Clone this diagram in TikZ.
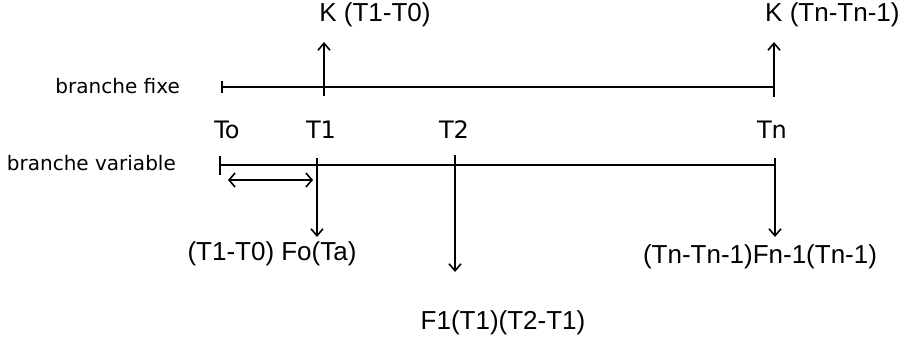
\documentclass[tikz,border=0pt]{standalone}
\usepackage{fontspec}
\setmainfont{Liberation Sans}
\newfontfamily\pixfont{DejaVu Sans}
\usetikzlibrary{arrows.meta, positioning}
\tikzset{
  branche/.style={line width=1.6pt},
  tick/.style={line width=1.6pt},
  flux/.style={line width=1.6pt, -{Straight Barb[length=7pt, width=12pt]}},
  ecart/.style={line width=1.6pt, {Straight Barb[length=6pt, width=14pt]}-{Straight Barb[length=6pt, width=14pt]}},
  lbl/.style={font=\pixfont\fontsize{24}{28}\selectfont, inner sep=1pt},
  blbl/.style={font=\pixfont\fontsize{20}{24}\selectfont, inner sep=1pt, anchor=east},
  flbl/.style={font=\fontsize{26}{30}\selectfont, inner sep=1pt},
}
\begin{document}
\begin{tikzpicture}[x=1pt, y=-1pt]
    \useasboundingbox (0,0) rectangle (904,340);
    % branche fixe
    \node[blbl] (bf) at (181,86) {branche fixe};
    \coordinate (f0) at (222,87);
    \coordinate (f1) at (324,87);
    \coordinate (fn) at (774,87);
    \draw[branche] (f0) -- (fn);
    \draw[tick] ([yshift=6pt]f0) -- ([yshift=-6pt]f0);
    \coordinate (u1) at (324,42);
    \coordinate (un) at (774,42);
    \draw[flux] ([yshift=-9pt]f1) -- (u1);
    \draw[flux] ([yshift=-10pt]fn) -- (un);
    \node[flbl] (k1) at (375,15) {K (T1-T0)};
    \node[flbl, anchor=west] (kn) at (764,15) {K (Tn-Tn-1)};
    % dates
    \node[lbl] (t0) at (227,130) {To};
    \node[lbl] (t1) at (321,130) {T1};
    \node[lbl] (t2) at (454,130) {T2};
    \node[lbl] (tn) at (772,130) {Tn};
    % branche variable
    \node[blbl] (bv) at (177,163) {branche variable};
    \coordinate (v0) at (220,165);
    \coordinate (v1) at (317,165);
    \coordinate (v2) at (455,165);
    \coordinate (vn) at (775,165);
    \draw[branche] (v0) -- (vn);
    \draw[tick] ([yshift=9pt]v0) -- ([yshift=-10pt]v0);
    \draw[tick] ([yshift=7pt]v1) -- (v1);
    \draw[tick] ([yshift=10pt]v2) -- (v2);
    \draw[tick] ([yshift=7pt]vn) -- (vn);
    \coordinate (e0) at (228,180);
    \coordinate (e1) at (313,180);
    \draw[ecart] (e0) -- (e1);
    \coordinate (d1) at (317,237);
    \coordinate (d2) at (455,272);
    \coordinate (dn) at (775,237);
    \draw[flux] (v1) -- (d1);
    \draw[flux] (v2) -- (d2);
    \draw[flux] (vn) -- (dn);
    \node[flbl] (c1) at (272,254) {(T1-T0) Fo(Ta)};
    \node[flbl] (c2) at (503,323) {F1(T1)(T2-T1)};
    \node[flbl] (cn) at (760,257) {(Tn-Tn-1)Fn-1(Tn-1)};
\end{tikzpicture}
\end{document}
